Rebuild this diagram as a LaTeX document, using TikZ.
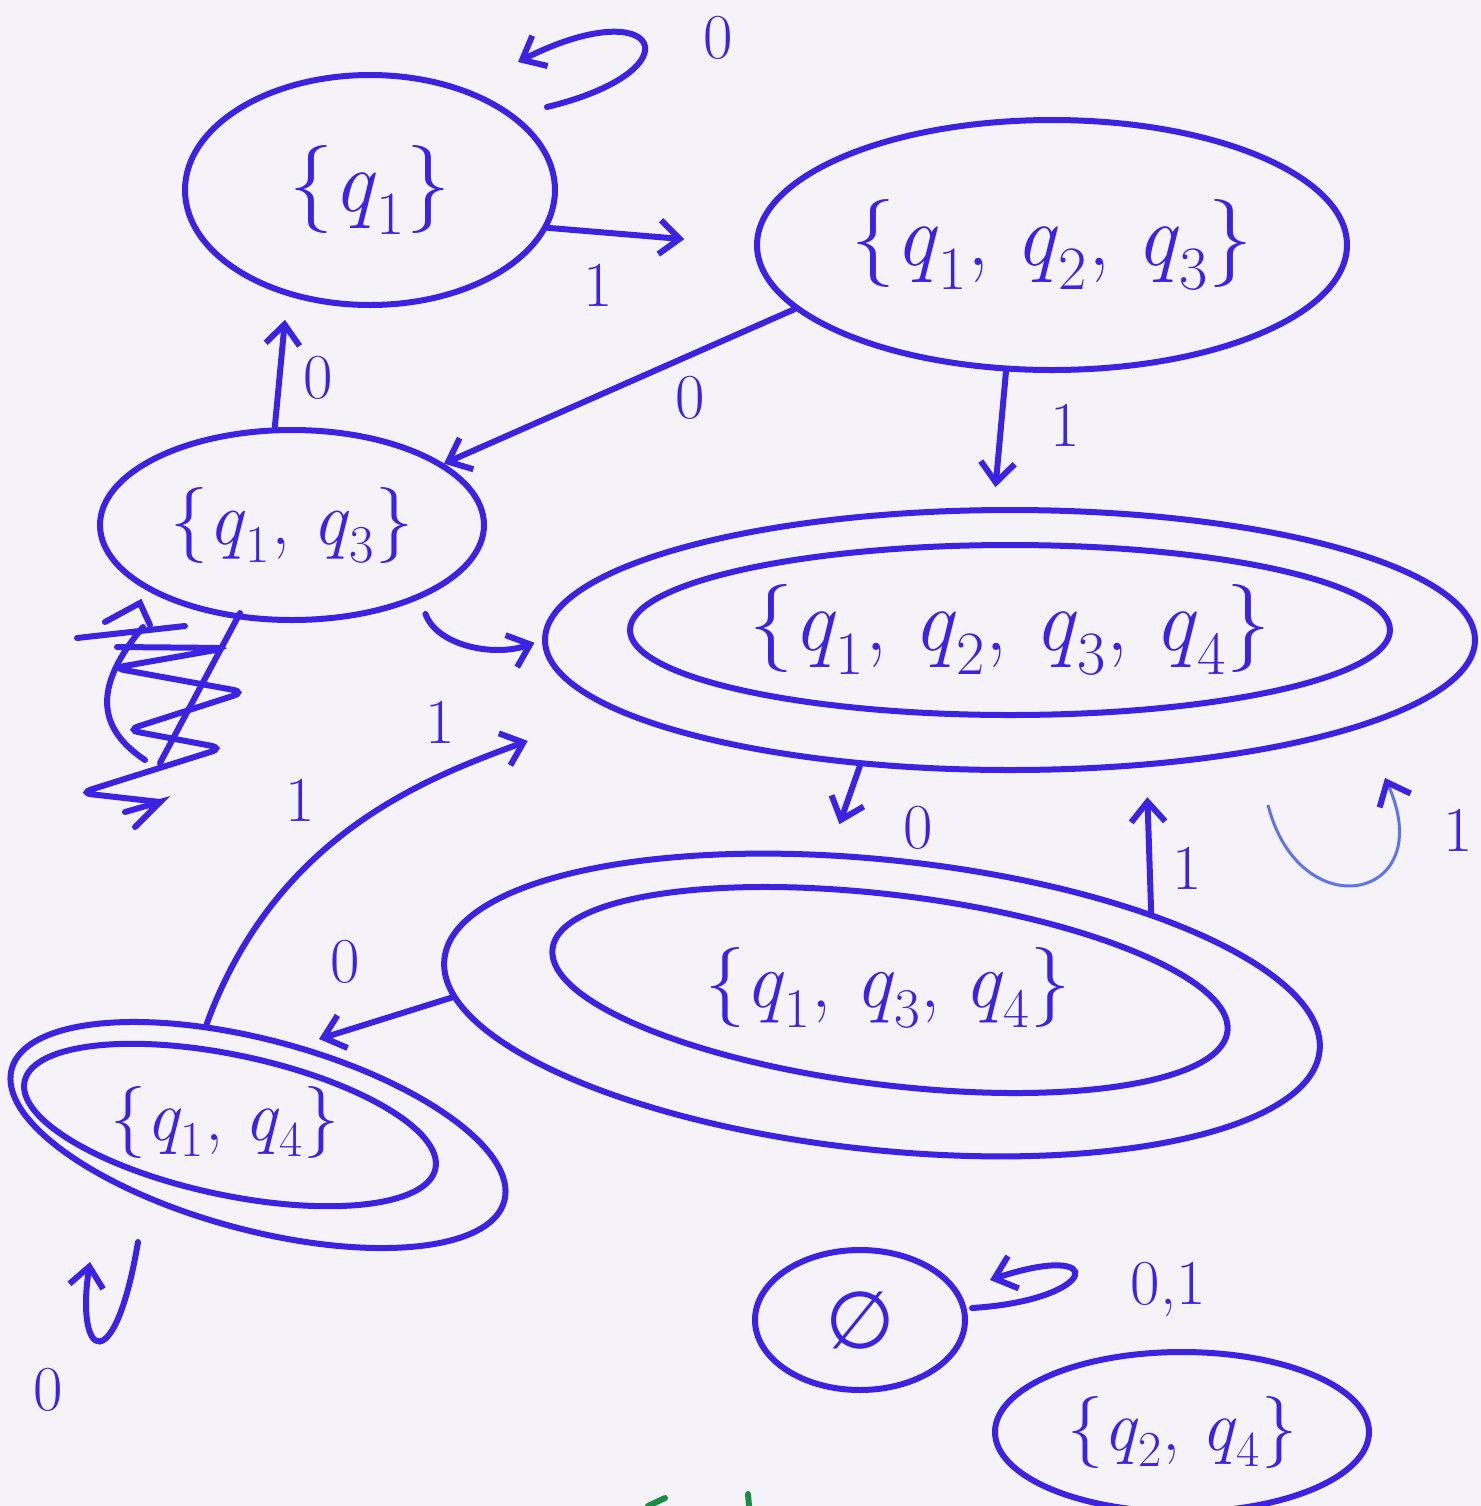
\documentclass[tikz,border=0pt]{standalone}
\usepackage{fontspec}
\newfontfamily\symfont{DejaVu Sans}
\usetikzlibrary{shapes.geometric,arrows.meta,calc}
\definecolor{ink}{RGB}{60,35,225}
\definecolor{inklight}{RGB}{95,115,235}
\definecolor{paper}{RGB}{245,243,248}
\definecolor{greenink}{RGB}{25,140,70}
\newcommand\qsub[1]{\textit{q}\textsubscript{#1}}
\tikzset{
  inkline/.style={draw=ink, line width=3pt, line cap=round},
  st/.style={ellipse, inkline, inner sep=0pt, text=ink, font=\fontsize{44}{50}\selectfont},
  ring/.style={ellipse, inkline, inner sep=0pt},
  stext/.style={inner sep=0pt, text=ink, font=\fontsize{40}{46}\selectfont},
  arr/.style={inkline, -{Straight Barb[length=10pt,width=17pt]}},
  lbl/.style={text=ink, inner sep=0pt, font=\fontsize{32}{36}\selectfont},
}
\begin{document}
\begin{tikzpicture}[x=0.5pt,y=-0.5pt]
\fill[paper] (0,0) rectangle (1481,1506);
\useasboundingbox (0,0) rectangle (1481,1506);

% states
\node[st, minimum width=185pt, minimum height=115pt] (A) at (370,190) {\{\qsub{1}\}};
\node[st, minimum width=295pt, minimum height=125pt] (B) at (1052,245) {\{\qsub{1}, \qsub{2}, \qsub{3}\}};
\node[st, font=\fontsize{38}{44}\selectfont, minimum width=192pt, minimum height=95pt] (C) at (292,525) {\{\qsub{1}, \qsub{3}\}};
\node[st, minimum width=380pt, minimum height=85pt] (D) at (1010,630) {\{\qsub{1}, \qsub{2}, \qsub{3}, \qsub{4}\}};
\node[ring, minimum width=465pt, minimum height=130pt] (Dout) at (1010,640) {};
\node[ring, minimum width=340pt, minimum height=95pt, rotate=-7] (E) at (890,990) {};
\node[stext] (Et) at (888,988) {\{\qsub{1}, \qsub{3}, \qsub{4}\}};
\node[ring, minimum width=440pt, minimum height=145pt, rotate=-6] (Eout) at (882,1005) {};
\node[ring, minimum width=210pt, minimum height=70pt, rotate=-12] (F) at (230,1125) {};
\node[stext, font=\fontsize{36}{42}\selectfont] (Ft) at (225,1122) {\{\qsub{1}, \qsub{4}\}};
\node[ring, minimum width=255pt, minimum height=95pt, rotate=-15] (Fout) at (258,1135) {};
\node[st, font=\symfont\fontsize{40}{46}\selectfont, minimum width=105pt, minimum height=70pt] (G) at (860,1320) {∅};
\node[st, font=\fontsize{36}{42}\selectfont, minimum width=187pt, minimum height=80pt] (H) at (1182,1432) {\{\qsub{2}, \qsub{4}\}};

% loop end points
\coordinate (a0) at (547,107);
\coordinate (a1) at (518,62);
\coordinate (d0) at (1268,805);
\coordinate (d1) at (1385,778);
\coordinate (f0) at (138,1242);
\coordinate (f1) at (90,1262);
\coordinate (g0) at (972,1308);
\coordinate (g1) at (990,1280);

% transitions
\draw[arr] (a0) .. controls (700,70) and (660,-10) .. (a1);
\draw[arr, shorten >=35pt] (A.-12) -- (B.west);
\draw[arr] (B.194) -- (C.22);
\draw[arr, shorten >=10pt] (B.250) -- (Dout.97);
\draw[arr, shorten >=12pt] (C.100) -- (A.232);
\draw[arr, shorten <=8pt, shorten >=4pt] (C.-30) to[out=-70, in=200] (Dout.west);
\draw[draw=inklight, line width=1.5pt, -{Straight Barb[length=10pt,width=17pt,color=ink,line width=3pt]}] (d0) .. controls (1300,930) and (1440,900) .. (d1);
\draw[arr, shorten >=15pt] (Dout.220) -- (Eout.115);
\draw[arr, shorten >=15pt] (Eout.25) -- (Dout.-43);
\draw[arr, shorten >=10pt] (Eout.185) -- (Fout.80);
\draw[arr, shorten >=45pt] (Fout.130) to[out=70, in=200] (Dout.190);
\draw[arr] (f0) .. controls (115,1380) and (75,1360) .. (f1);
\draw[arr] (g0) .. controls (1100,1300) and (1110,1240) .. (g1);

% labels
\node[lbl] (l1) at (718,38) {0};
\node[lbl] (l2) at (598,285) {1};
\node[lbl] (l3) at (690,398) {0};
\node[lbl] (l4) at (1065,425) {1};
\node[lbl] (l5) at (318,378) {0};
\node[lbl] (l6) at (440,722) {1};
\node[lbl] (l7) at (300,800) {1};
\node[lbl] (l8) at (918,828) {0};
\node[lbl] (l9) at (1187,868) {1};
\node[lbl] (l10) at (1458,830) {1};
\node[lbl] (l11) at (345,962) {0};
\node[lbl] (l12) at (48,1390) {0};
\node[lbl] (l13) at (1168,1290) {0,1};

% crossed-out scribble
\draw[inkline] (77,638) -- (185,626);
\draw[inkline] (105,622) -- (140,603) -- (150,625);
\draw[inkline] (143,627) .. controls (90,690) and (100,730) .. (145,760);
\draw[inkline] (240,613) -- (160,763);
\draw[inkline, rounded corners=6pt] (117,647) -- (227,648) -- (113,668) -- (245,692) -- (127,730) -- (223,748) -- (80,793) -- (160,802);
\draw[inkline] (125,812) -- (160,802) -- (135,827);

% green marks at the bottom edge
\draw[draw=greenink, line width=3pt, line cap=round] (648,1506) -- (665,1498);
\draw[draw=greenink, line width=3pt, line cap=round] (748,1494) -- (749,1506);
\end{tikzpicture}
\end{document}
